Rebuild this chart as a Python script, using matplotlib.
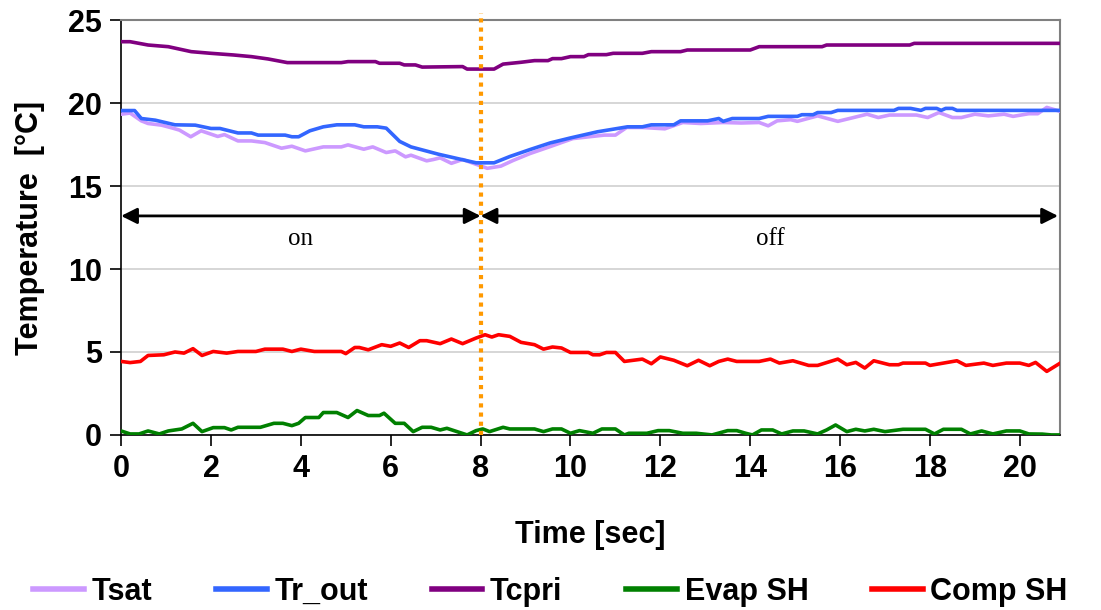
import matplotlib
matplotlib.use("Agg")
import matplotlib.pyplot as plt

# --- measured series (time in seconds, temperature in °C) ---
t_tsat = [0, 0.2, 0.45, 0.6, 0.9, 1.15, 1.3, 1.55, 1.78, 2.15,
          2.3, 2.6, 2.9, 3.2, 3.57, 3.8, 4.1, 4.5, 4.9, 5.05,
          5.4, 5.6, 5.9, 6.1, 6.33, 6.45, 6.8, 6.95, 7.1, 7.35,
          7.6, 8.15, 8.45, 8.73, 9.1, 9.55, 10.05, 10.75, 11.0, 11.25,
          11.6, 12.1, 12.5, 12.9, 13.4, 13.8, 14.2, 14.4, 14.6, 14.9,
          15.05, 15.5, 15.95, 16.3, 16.6, 16.85, 17.1, 17.7, 17.95, 18.2,
          18.5, 18.7, 19.0, 19.3, 19.65, 19.85, 20.2, 20.4, 20.6, 20.9]
tsat = [19.33, 19.4, 18.93, 18.77, 18.67, 18.49, 18.37, 17.97, 18.33, 17.99,
        18.1, 17.72, 17.72, 17.62, 17.28, 17.4, 17.12, 17.36, 17.36, 17.48,
        17.22, 17.36, 17.02, 17.12, 16.76, 16.86, 16.52, 16.6, 16.7, 16.37,
        16.6, 16.07, 16.2, 16.55, 16.96, 17.38, 17.86, 18.07, 18.07, 18.53,
        18.53, 18.45, 18.83, 18.77, 18.83, 18.8, 18.83, 18.63, 18.93, 19.0,
        18.9, 19.23, 18.9, 19.13, 19.33, 19.13, 19.28, 19.28, 19.13, 19.43,
        19.13, 19.13, 19.33, 19.23, 19.33, 19.2, 19.36, 19.36, 19.74, 19.5]

t_trout = [0, 0.3, 0.45, 0.76, 1.2, 1.65, 2.0, 2.2, 2.6, 2.9,
           3.05, 3.65, 3.8, 3.95, 4.2, 4.5, 4.8, 5.2, 5.4, 5.7,
           5.9, 6.2, 6.45, 7.06, 7.9, 8.3, 8.65, 9.1, 9.55, 10.0,
           10.6, 11.27, 11.6, 11.8, 12.3, 12.45, 13.05, 13.3, 13.4, 13.6,
           14.2, 14.4, 15.05, 15.15, 15.4, 15.5, 15.8, 15.95, 17.2, 17.3,
           17.57, 17.8, 17.9, 18.15, 18.25, 18.35, 18.5, 18.6, 20.9]
trout = [19.55, 19.55, 19.07, 18.97, 18.69, 18.67, 18.47, 18.47, 18.2, 18.2,
         18.07, 18.07, 17.97, 17.97, 18.33, 18.57, 18.69, 18.69, 18.57, 18.57,
         18.49, 17.69, 17.36, 16.92, 16.4, 16.4, 16.78, 17.2, 17.6, 17.9,
         18.27, 18.57, 18.57, 18.69, 18.69, 18.93, 18.93, 19.07, 18.9, 19.07,
         19.07, 19.2, 19.2, 19.3, 19.3, 19.43, 19.43, 19.56, 19.56, 19.68,
         19.68, 19.56, 19.68, 19.68, 19.56, 19.68, 19.68, 19.56, 19.56]

t_tcpri = [0, 0.2, 0.6, 1.05, 1.56, 2.0, 2.5, 2.9, 3.27, 3.7,
           4.9, 5.05, 5.66, 5.75, 6.2, 6.3, 6.55, 6.7, 7.6, 7.7,
           8.3, 8.5, 8.9, 9.2, 9.5, 9.6, 9.8, 10.0, 10.3, 10.4,
           10.8, 10.95, 11.6, 11.8, 12.45, 12.6, 14.0, 14.2, 15.6, 15.7,
           17.55, 17.65, 20.9]
tcpri = [23.7, 23.7, 23.5, 23.4, 23.1, 23.0, 22.9, 22.8, 22.66, 22.44,
         22.44, 22.5, 22.5, 22.4, 22.4, 22.3, 22.3, 22.17, 22.2, 22.05,
         22.05, 22.35, 22.46, 22.56, 22.56, 22.68, 22.68, 22.8, 22.8, 22.92,
         22.92, 23.0, 23.0, 23.1, 23.1, 23.2, 23.2, 23.4, 23.4, 23.5,
         23.5, 23.6, 23.6]

t_evap = [0, 0.2, 0.4, 0.6, 0.85, 1.05, 1.35, 1.6, 1.8, 2.05,
          2.3, 2.45, 2.6, 3.1, 3.4, 3.6, 3.8, 3.95, 4.1, 4.4,
          4.5, 4.8, 5.05, 5.25, 5.5, 5.75, 5.85, 6.1, 6.3, 6.5,
          6.7, 6.9, 7.1, 7.25, 7.7, 7.9, 8.05, 8.2, 8.5, 8.65,
          9.2, 9.4, 9.6, 9.8, 10.0, 10.2, 10.5, 10.7, 11.0, 11.2,
          11.3, 11.7, 11.95, 12.2, 12.5, 12.8, 13.15, 13.5, 13.7, 13.9,
          14.05, 14.25, 14.5, 14.7, 14.95, 15.2, 15.5, 15.7, 15.9, 16.15,
          16.35, 16.55, 16.75, 17.0, 17.4, 17.9, 18.1, 18.3, 18.7, 18.9,
          19.15, 19.4, 19.7, 20.0, 20.2, 20.5, 20.7, 20.9]
evap_sh = [0.24, 0.06, 0.06, 0.24, 0.06, 0.24, 0.36, 0.7, 0.2, 0.44,
           0.44, 0.3, 0.46, 0.46, 0.7, 0.7, 0.56, 0.7, 1.05, 1.05,
           1.35, 1.35, 1.05, 1.47, 1.17, 1.17, 1.31, 0.7, 0.7, 0.2,
           0.46, 0.46, 0.3, 0.4, 0.0, 0.26, 0.36, 0.2, 0.46, 0.36,
           0.36, 0.2, 0.36, 0.36, 0.1, 0.26, 0.1, 0.36, 0.36, 0.0,
           0.1, 0.1, 0.26, 0.26, 0.1, 0.1, 0.0, 0.26, 0.26, 0.1,
           0.0, 0.3, 0.3, 0.06, 0.24, 0.24, 0.06, 0.3, 0.6, 0.2,
           0.34, 0.24, 0.34, 0.2, 0.34, 0.34, 0.06, 0.34, 0.34, 0.06,
           0.24, 0.06, 0.24, 0.24, 0.06, 0.05, 0.0, 0.0]

t_comp = [0, 0.2, 0.43, 0.6, 0.95, 1.2, 1.4, 1.6, 1.8, 2.05,
          2.35, 2.6, 3.0, 3.2, 3.6, 3.8, 4.0, 4.3, 4.9, 5.0,
          5.2, 5.3, 5.5, 5.8, 6.0, 6.2, 6.4, 6.65, 6.8, 7.1,
          7.35, 7.6, 7.9, 8.1, 8.25, 8.4, 8.65, 8.9, 9.2, 9.4,
          9.6, 9.8, 10.0, 10.4, 10.5, 10.65, 10.8, 11.0, 11.2, 11.6,
          11.8, 12.0, 12.3, 12.6, 12.85, 13.1, 13.3, 13.5, 13.7, 14.2,
          14.45, 14.65, 14.95, 15.3, 15.5, 15.95, 16.15, 16.35, 16.55, 16.75,
          17.1, 17.3, 17.4, 17.9, 18.0, 18.3, 18.6, 18.8, 19.2, 19.4,
          19.7, 20.0, 20.2, 20.35, 20.6, 20.9]
comp_sh = [4.43, 4.36, 4.43, 4.79, 4.83, 5.0, 4.93, 5.2, 4.79, 5.03,
           4.93, 5.03, 5.03, 5.17, 5.17, 5.03, 5.17, 5.03, 5.03, 4.9,
           5.27, 5.27, 5.13, 5.44, 5.34, 5.54, 5.27, 5.68, 5.68, 5.5,
           5.78, 5.5, 5.84, 6.04, 5.9, 6.04, 5.94, 5.58, 5.44, 5.17,
           5.3, 5.24, 4.97, 4.97, 4.83, 4.83, 4.97, 4.97, 4.43, 4.57,
           4.29, 4.7, 4.5, 4.17, 4.5, 4.17, 4.43, 4.57, 4.43, 4.43,
           4.57, 4.33, 4.47, 4.19, 4.19, 4.57, 4.23, 4.37, 4.03, 4.47,
           4.23, 4.23, 4.33, 4.33, 4.19, 4.33, 4.47, 4.19, 4.33, 4.19,
           4.33, 4.33, 4.19, 4.37, 3.83, 4.33]

x_ticks = [0, 2, 4, 6, 8, 10, 12, 14, 16, 18, 20]
y_ticks = [0, 5, 10, 15, 20, 25]
switch_time = 8.0
t_end = 20.9
arrow_level = 13.2
phase_labels = ["on", "off"]

plt.rcParams['font.family'] = ['Liberation Sans', 'DejaVu Sans']

fig = plt.figure(figsize=(11.01, 6.10), dpi=100)
ax = fig.add_axes([0.110, 0.287, 0.853, 0.680])

lw = 2.6
ax.plot(t_tsat, tsat, color='#CC99FF', lw=lw, label='Tsat', zorder=3)
ax.plot(t_trout, trout, color='#3366FF', lw=lw, label='Tr_out', zorder=4)
ax.plot(t_tcpri, tcpri, color='#800080', lw=lw, label='Tcpri', zorder=3)
ax.plot(t_evap, evap_sh, color='#008000', lw=lw, label='Evap SH', zorder=3)
ax.plot(t_comp, comp_sh, color='#FF0000', lw=lw, label='Comp SH', zorder=3)

ax.set_xlim(0, t_end)
ax.set_ylim(0, 25)
ax.set_xticks(x_ticks)
ax.set_yticks(y_ticks)
ax.yaxis.grid(True, color='#D0D0D0', lw=1.2)
ax.set_axisbelow(True)

for s in ['top', 'right']:
    ax.spines[s].set_color('#808080')
    ax.spines[s].set_linewidth(1.5)
for s in ['left', 'bottom']:
    ax.spines[s].set_color('black')
    ax.spines[s].set_linewidth(1.2)

ax.tick_params(axis='both', direction='out', length=8, width=1.2,
               labelsize=22, pad=6)
for lab in ax.get_xticklabels() + ax.get_yticklabels():
    lab.set_fontweight('bold')

ax.set_xlabel('Time [sec]', fontsize=22, fontweight='bold', labelpad=26)
ax.set_ylabel('Temperature  [°C]', fontsize=22, fontweight='bold', labelpad=16)

# switch-over marker
ax.plot([switch_time, switch_time], [0, 25.4], color='#FF9900', lw=3,
        ls=(0, (1, 1.2)), clip_on=False, zorder=5)

# on / off phase arrows
arrow_kw = dict(arrowstyle='<|-|>', color='black', lw=2, mutation_scale=24,
                shrinkA=0, shrinkB=0)
ax.annotate('', xy=(0, arrow_level), xytext=(switch_time, arrow_level),
            arrowprops=arrow_kw, zorder=6)
ax.annotate('', xy=(switch_time, arrow_level), xytext=(t_end - 0.05, arrow_level),
            arrowprops=arrow_kw, zorder=6)
ax.text(switch_time / 2, 11.8, phase_labels[0], ha='center', va='center',
        fontsize=18, family=['Liberation Serif', 'DejaVu Serif'])
ax.text((switch_time + t_end) / 2, 11.8, phase_labels[1], ha='center', va='center',
        fontsize=18, family=['Liberation Serif', 'DejaVu Serif'])

leg = fig.legend(loc='lower center', bbox_to_anchor=(0.5, -0.04), ncol=5,
                 frameon=False, handlelength=1.65, handletextpad=0.25,
                 columnspacing=2.1, prop={'size': 22, 'weight': 'bold'})
for h in leg.get_lines():
    h.set_linewidth(4)

fig.savefig('out.png', dpi=100)
